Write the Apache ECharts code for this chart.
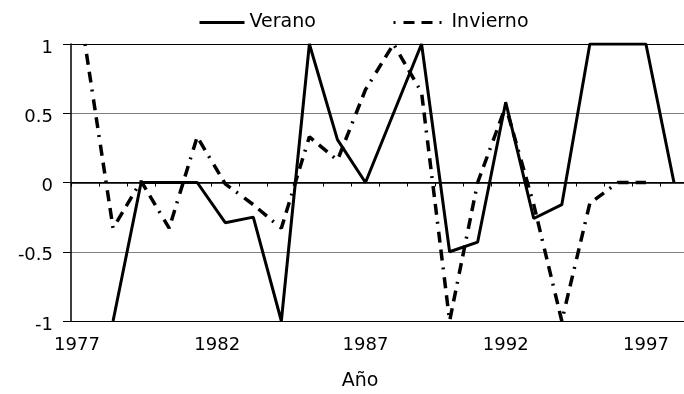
<!DOCTYPE html>
<html>
<head>
<meta charset="utf-8">
<script src="https://cdn.jsdelivr.net/npm/echarts@6/dist/echarts.min.js"></script>
<style>
html,body{margin:0;padding:0;background:#fff;}
#chart{width:684px;height:394px;}
</style>
</head>
<body>
<div id="chart"></div>
<script>
var years = ['1977','1978','1979','1980','1981','1982','1983','1984','1985','1986','1987',
             '1988','1989','1990','1991','1992','1993','1994','1995','1996','1997','1998'];
var verano = ['-', -1, 0, 0, 0, -0.29, -0.25, -1, 1, 0.31, 0, 0.5, 1, -0.5, -0.43, 0.58, -0.26, -0.16, 1, 1, 1, 0];
var invierno = [1, -0.33, 0.01, -0.33, 0.33, -0.01, -0.16, -0.33, 0.33, 0.16, 0.67, 1, 0.65, -1, 0, 0.55, -0.16, -1, -0.15, 0, 0, '-'];
var yTicks = [-1, -0.5, 0, 0.5, 1];
var seriesNames = ['Verano', 'Invierno'];
var xTitle = 'Año';

var FONT = 'DejaVu Sans';
var hiddenSymbol = {color: 'rgba(0,0,0,0)', borderColor: 'rgba(0,0,0,0)', borderWidth: 0, opacity: 0};
var chart = echarts.init(document.getElementById('chart'), null, {renderer: 'canvas'});
chart.setOption({
  backgroundColor: '#ffffff',
  animation: false,
  legend: [
    {data: [seriesNames[0]], left: 198, top: 13, padding: 0, itemWidth: 45, itemHeight: 14, itemGap: 0,
     lineStyle: {width: 3}, itemStyle: hiddenSymbol,
     textStyle: {fontFamily: FONT, fontSize: 19, color: '#000'}},
    {data: [seriesNames[1]], left: 392, top: 13, padding: 0, itemWidth: 53, itemHeight: 14, itemGap: 0,
     lineStyle: {width: 3}, itemStyle: hiddenSymbol,
     textStyle: {fontFamily: FONT, fontSize: 19, color: '#000'}}
  ],
  grid: {left: 71, top: 44, width: 617, height: 277, containLabel: false, outerBoundsMode: 'none'},
  xAxis: {
    type: 'category',
    data: years,
    boundaryGap: true,
    axisLine: {show: true, lineStyle: {color: '#000', width: 1.5}},
    axisTick: {show: true, interval: 0, alignWithLabel: false, length: 4, lineStyle: {color: '#000', width: 1}},
    axisLabel: {
      interval: 4, margin: 15, color: '#000', fontFamily: FONT, fontSize: 18,
      formatter: function (v) { return (v === '1977' || v === '1982') ? '{s|' + v + '}' : v; },
      rich: {s: {padding: [0, 16, 0, 0], color: '#000', fontFamily: FONT, fontSize: 18}}
    },
    splitLine: {show: false}
  },
  yAxis: {
    type: 'value',
    min: yTicks[0], max: yTicks[yTicks.length - 1], interval: 0.5,
    axisLine: {show: true, lineStyle: {color: '#000', width: 1.5}},
    axisTick: {show: true, length: 8, lineStyle: {color: '#000', width: 1}},
    axisLabel: {
      margin: 18, color: '#000', fontFamily: FONT, fontSize: 18,
      formatter: function (v) { return '{v|' + v + '}'; },
      rich: {v: {padding: [8, 0, 0, 0], color: '#000', fontFamily: FONT, fontSize: 18}}
    },
    splitLine: {show: true, lineStyle: {color: ['#000', '#808080', '#000', '#808080', '#000'], width: 1}}
  },
  graphic: [{
    type: 'text', x: 360, y: 381,
    style: {text: xTitle, fontFamily: FONT, fontSize: 19, fill: '#000', textAlign: 'center', textVerticalAlign: 'middle'}
  }],
  series: [
    {name: seriesNames[0], type: 'line', data: verano, symbol: 'none', connectNulls: false,
     lineStyle: {color: '#000', width: 3, type: 'solid'}, itemStyle: {color: '#000'}, z: 3},
    {name: seriesNames[1], type: 'line', data: invierno, symbol: 'none', connectNulls: false,
     lineStyle: {color: '#000', width: 3.5, type: [2, 8, 11, 7, 11, 7], cap: 'butt'}, itemStyle: {color: '#000'}, z: 2}
  ]
});
</script>
</body>
</html>
